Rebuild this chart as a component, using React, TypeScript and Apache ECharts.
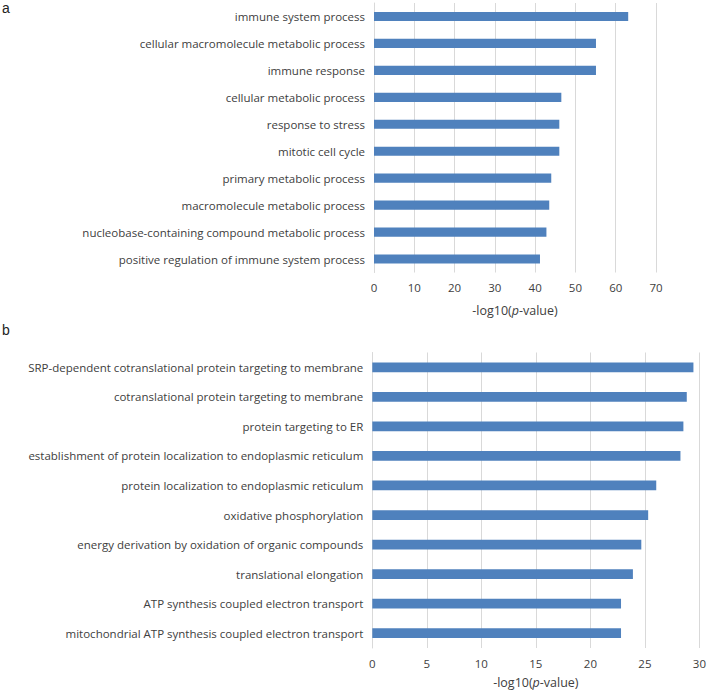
import React, { useEffect, useRef } from "react";
import * as echarts from "echarts";

const catsA = [
  "immune system process",
  "cellular macromolecule metabolic process",
  "immune response",
  "cellular metabolic process",
  "response to stress",
  "mitotic cell cycle",
  "primary metabolic process",
  "macromolecule metabolic process",
  "nucleobase-containing compound metabolic process",
  "positive regulation of immune system process",
];
const valsA = [63.1, 55.1, 55.1, 46.5, 46.0, 46.0, 44.0, 43.5, 42.8, 41.2];
const ticksA = { min: 0, max: 70, interval: 10 };

const catsB = [
  "SRP-dependent cotranslational protein targeting to membrane",
  "cotranslational protein targeting to membrane",
  "protein targeting to ER",
  "establishment of protein localization to endoplasmic reticulum",
  "protein localization to endoplasmic reticulum",
  "oxidative phosphorylation",
  "energy derivation by oxidation of organic compounds",
  "translational elongation",
  "ATP synthesis coupled electron transport",
  "mitochondrial ATP synthesis coupled electron transport",
];
const valsB = [29.45, 28.84, 28.53, 28.26, 26.04, 25.3, 24.67, 23.9, 22.81, 22.81];
const ticksB = { min: 0, max: 30, interval: 5 };

const FONT = "Open Sans";
const TEXT = "#404040";
const GRID = "#d9d9d9";
const BAR = "#4f81bd";

export default function App() {
  const ref = useRef<HTMLDivElement>(null);
  useEffect(() => {
    document.body.style.margin = "0";
    const chart = echarts.init(ref.current!, null, { renderer: "svg" });
    const xAxisCommon = (t: { min: number; max: number; interval: number }, gap: number) => ({
      type: "value",
      min: t.min,
      max: t.max,
      interval: t.interval,
      axisLine: { show: false },
      axisTick: { show: false },
      splitLine: { show: true, lineStyle: { color: GRID, width: 1 } },
      axisLabel: { color: TEXT, fontFamily: FONT, fontSize: 11.5, margin: 9 },
      name: "-log10({i|p}-value)",
      nameLocation: "middle",
      nameGap: gap,
      nameTextStyle: {
        color: TEXT,
        fontFamily: FONT,
        fontSize: 12.5,
        rich: { i: { fontStyle: "italic", color: TEXT, fontFamily: FONT, fontSize: 12.5 } },
      },
    });
    const yAxisCommon = (cats: string[]) => ({
      type: "category",
      data: cats,
      inverse: true,
      axisLine: { show: true, lineStyle: { color: GRID } },
      axisTick: { show: false },
      axisLabel: { color: TEXT, fontFamily: FONT, fontSize: 11.5, margin: 9 },
    });
    chart.setOption({
      animation: false,
      grid: [
        { left: 374, width: 282, top: 3, height: 269.5 },
        { left: 372.3, width: 328.4, top: 352.5, height: 295.5 },
      ],
      xAxis: [
        { ...xAxisCommon(ticksA, 31), gridIndex: 0 },
        { ...xAxisCommon(ticksB, 28), gridIndex: 1 },
      ],
      yAxis: [
        { ...yAxisCommon(catsA), gridIndex: 0 },
        { ...yAxisCommon(catsB), gridIndex: 1 },
      ],
      series: [
        {
          type: "bar",
          xAxisIndex: 0,
          yAxisIndex: 0,
          data: valsA,
          barWidth: "34%",
          itemStyle: { color: BAR },
        },
        {
          type: "bar",
          xAxisIndex: 1,
          yAxisIndex: 1,
          data: valsB,
          barWidth: "33%",
          itemStyle: { color: BAR },
        },
      ],
      graphic: [
        { type: "text", left: 2, top: 1, style: { text: "a", fontFamily: "Liberation Sans", fontSize: 14, fill: "#222" } },
        { type: "text", left: 2, top: 323, style: { text: "b", fontFamily: "Liberation Sans", fontSize: 14, fill: "#222" } },
      ],
    });
    return () => chart.dispose();
  }, []);
  return <div ref={ref} style={{ width: 709, height: 691 }} />;
}
